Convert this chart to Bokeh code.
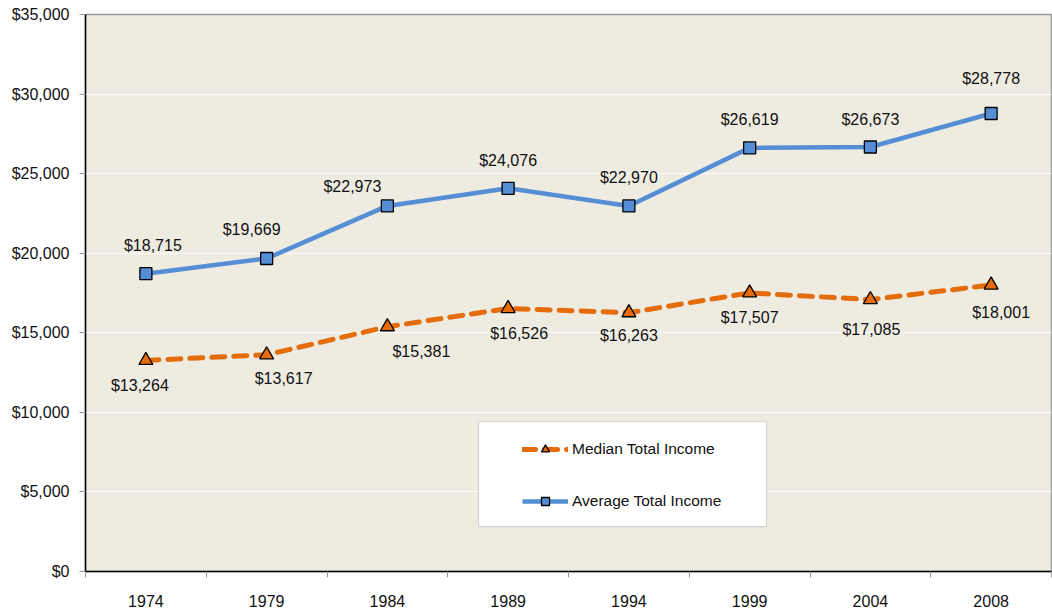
from bokeh.plotting import figure
from bokeh.models import (ColumnDataSource, FixedTicker, Legend, LegendItem,
                          BoxAnnotation, NumeralTickFormatter, Range1d, LabelSet)
from bokeh.core.properties import value
from bokeh.embed import file_html
from bokeh.resources import INLINE

years = ["1974", "1979", "1984", "1989", "1994", "1999", "2004", "2008"]
median_income = [13264, 13617, 15381, 16526, 16263, 17507, 17085, 18001]
average_income = [18715, 19669, 22973, 24076, 22970, 26619, 26673, 28778]
y_ticks = [0, 5000, 10000, 15000, 20000, 25000, 30000, 35000]

# label placement (screen px offsets)
med_dx = [-6, 17, 34, 11, 0, 0, 1, 10]
med_dy = [-25, -24, -25, -25, -23, -25, -30, -27]
avg_dx = [7, -15, -35, 0, 0, 0, 0, 0]
avg_dy = [28, 29, 19, 28, 28, 28, 28, 35]

FONT = "Liberation Sans"
ORANGE = "#E46C0A"
BLUE = "#558ED5"
TXT = "#111111"

xs = list(range(len(years)))
src = ColumnDataSource(dict(
    x=xs, med=median_income, avg=average_income,
    med_lbl=["${:,}".format(v) for v in median_income],
    avg_lbl=["${:,}".format(v) for v in average_income],
    med_dx=med_dx, med_dy=med_dy, avg_dx=avg_dx, avg_dy=avg_dy,
))

p = figure(width=1052, height=609, output_backend="svg", toolbar_location=None,
           x_range=Range1d(-0.5, len(years) - 0.5), y_range=Range1d(0, 35000),
           min_border_left=85, min_border_right=1, min_border_top=14, min_border_bottom=37)
p.background_fill_color = "#EEEBE1"
p.border_fill_color = "white"
p.outline_line_color = "#9A9A9A"
p.outline_line_width = 1.5

p.xgrid.visible = False
p.ygrid.grid_line_color = "white"
p.ygrid.grid_line_alpha = 0.9
p.ygrid.ticker = FixedTicker(ticks=y_ticks)

# y axis
p.yaxis.ticker = FixedTicker(ticks=y_ticks)
p.yaxis.formatter = NumeralTickFormatter(format="$0,0")
p.yaxis.axis_line_color = "black"
p.yaxis.axis_line_width = 1.5
p.yaxis.major_tick_line_color = "#999999"
p.yaxis.major_tick_out = 6
p.yaxis.major_tick_in = 0
p.yaxis.minor_tick_line_color = None
p.yaxis.major_label_text_font = FONT
p.yaxis.major_label_text_font_size = "16px"
p.yaxis.major_label_text_color = TXT
p.yaxis.major_label_standoff = 10

# x axis
p.xaxis.ticker = FixedTicker(ticks=xs, minor_ticks=[i - 0.5 for i in range(len(years) + 1)])
p.xaxis.major_label_overrides = {i: y for i, y in enumerate(years)}
p.xaxis.axis_line_color = "black"
p.xaxis.axis_line_width = 1.5
p.xaxis.major_tick_line_color = None
p.xaxis.minor_tick_line_color = "#999999"
p.xaxis.minor_tick_out = 6
p.xaxis.minor_tick_in = 0
p.xaxis.major_label_text_font = FONT
p.xaxis.major_label_text_font_size = "16px"
p.xaxis.major_label_text_color = TXT
p.xaxis.major_label_standoff = 17

med_line = p.line("x", "med", source=src, line_color=ORANGE, line_width=5,
                  line_dash="13 9", line_cap="round")
med_pts = p.scatter("x", "med", source=src, marker="triangle", size=14,
                    fill_color=ORANGE, line_color="black", line_width=1.3)
avg_line = p.line("x", "avg", source=src, line_color=BLUE, line_width=4.5)
avg_pts = p.scatter("x", "avg", source=src, marker="square", size=12,
                    fill_color=BLUE, line_color="black", line_width=1.3)

for col, lbl, dx, dy in (("med", "med_lbl", "med_dx", "med_dy"),
                         ("avg", "avg_lbl", "avg_dx", "avg_dy")):
    p.add_layout(LabelSet(x="x", y=col, text=lbl, source=src, x_offset=dx, y_offset=dy,
                          text_align="center", text_baseline="middle",
                          text_font=value(FONT), text_font_size=value("16px"),
                          text_color=TXT))

# legend frame
p.add_layout(BoxAnnotation(left=2.755, right=5.14, top=9409, bottom=2823,
                           fill_color="white", fill_alpha=1.0,
                           line_color="#8C8C8C", line_width=1.2, level="annotation"))

legend = Legend(items=[LegendItem(label="Median Total Income", renderers=[med_line, med_pts]),
                       LegendItem(label="Average Total Income", renderers=[avg_line, avg_pts])],
                location=(437, 60), padding=0, margin=0, spacing=32,
                glyph_width=46, glyph_height=20, label_height=20, label_standoff=4,
                background_fill_alpha=0, border_line_color=None,
                label_text_font=FONT, label_text_font_size="15.5px", label_text_color=TXT)
p.add_layout(legend)

open("out.html", "w").write(file_html(p, INLINE))
